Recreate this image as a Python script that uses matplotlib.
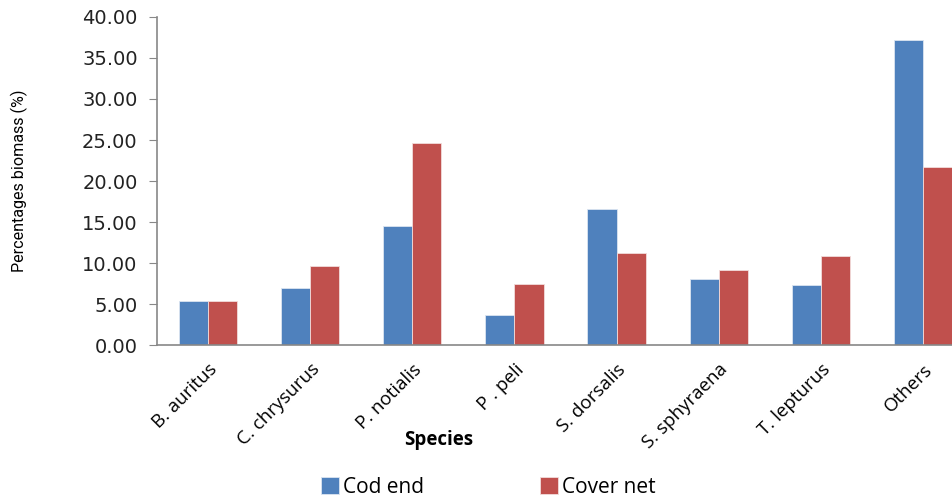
import matplotlib
matplotlib.use("Agg")
import matplotlib.pyplot as plt
import numpy as np

species = ["B. auritus", "C. chrysurus", "P. notialis", "P . peli",
           "S. dorsalis", "S. sphyraena", "T. lepturus", "Others"]
cod_end = [5.35, 6.95, 14.55, 3.70, 16.60, 8.05, 7.30, 37.15]
cover_net = [5.35, 9.60, 24.60, 7.40, 11.20, 9.10, 10.85, 21.65]
yticks = [0, 5, 10, 15, 20, 25, 30, 35, 40]

blue = "#4F81BD"
red = "#C0504D"
label_font = ["Open Sans", "DejaVu Sans"]

fig = plt.figure(figsize=(9.52, 4.98), dpi=100)
ax = fig.add_axes([0.165, 0.307, 0.858, 0.659])

x = np.arange(len(species))
w = 0.285
ax.bar(x - w / 2, cod_end, width=w, color=blue, edgecolor="#dbe5f1",
       linewidth=0.6, label="Cod end")
ax.bar(x + w / 2, cover_net, width=w, color=red, edgecolor="#f2dcdb",
       linewidth=0.6, label="Cover net")

ax.set_xlim(-0.5, len(species) - 0.5)
ax.set_ylim(0, 40)
ax.set_yticks(yticks)
ax.set_yticklabels([f"{v:.2f}" for v in yticks], fontsize=14,
                   family="DejaVu Sans", color="#222222")
ax.set_xticks(x)
ax.set_xticklabels(species, rotation=45, ha="right", rotation_mode="anchor",
                   fontsize=13.5, family=label_font)
ax.tick_params(axis="x", length=0, pad=11)
ax.tick_params(axis="y", length=6, color="#888888", pad=8)

for s in ["top", "right"]:
    ax.spines[s].set_visible(False)
for s in ["left", "bottom"]:
    ax.spines[s].set_color("#888888")
    ax.spines[s].set_linewidth(1.2)

ax.set_ylabel("Percentages biomass (%)", fontsize=11.6,
              family=["Roboto", "DejaVu Sans"], color="black")
ax.yaxis.set_label_coords(-0.158, 0.5)
fig.text(0.461, 0.117, "Species", fontsize=13.5, fontweight="bold",
         family=label_font, ha="center", va="center")

fig.legend(loc="center", bbox_to_anchor=(0.513, 0.022), ncol=2,
           frameon=False, handlelength=0.85, handleheight=0.85,
           columnspacing=5.6, handletextpad=0.2,
           prop={"family": label_font, "size": 15})

fig.savefig("out.png", dpi=100)
